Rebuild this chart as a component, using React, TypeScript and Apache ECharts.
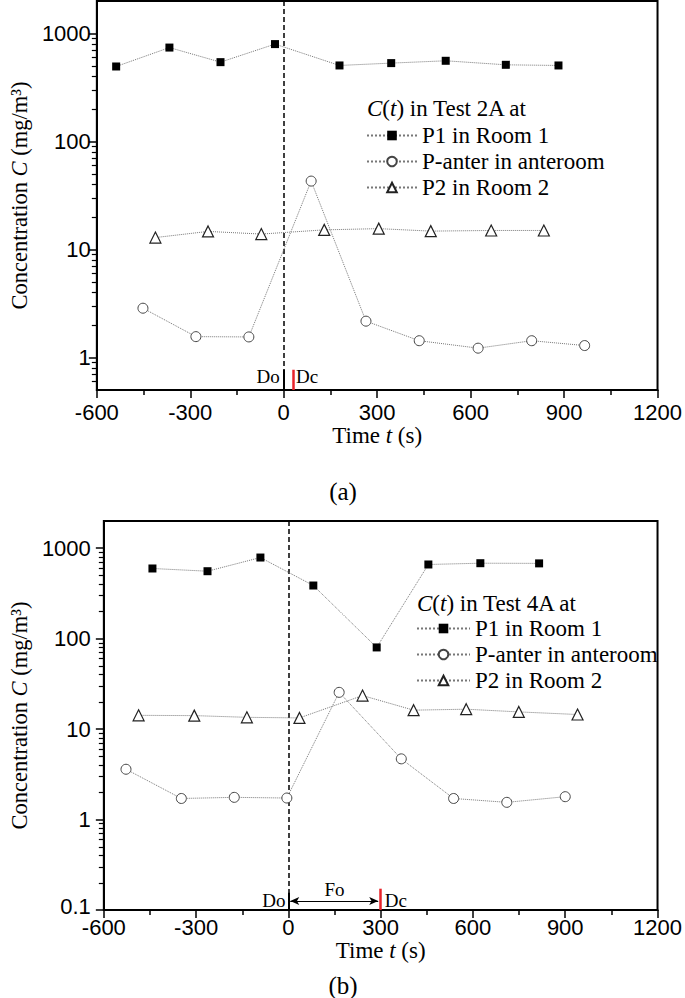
import React, { useEffect, useRef } from "react";
import * as echarts from "echarts";

// ---------- data ----------
const xMin = -600;
const xMax = 1200;
const xStep = 300;

// Test 2A (panel a)
const tA_P1 = [-538, -367, -203, -28, 179, 345, 520, 713, 882];
const cA_P1 = [495, 741, 543, 798, 506, 532, 559, 513, 506];
const tA_PA = [-452, -282, -112, 88, 264, 435, 624, 796, 966];
const cA_PA = [2.86, 1.56, 1.55, 43, 2.17, 1.43, 1.22, 1.43, 1.29];
const tA_P2 = [-412, -243, -72, 130, 305, 472, 666, 835];
const cA_P2 = [12.9, 14.7, 13.9, 15.2, 15.6, 14.8, 15.0, 15.0];

// Test 4A (panel b)
const tB_P1 = [-442, -263, -91, 81, 287, 455, 624, 815];
const cB_P1 = [597, 557, 789, 387, 80, 661, 683, 680];
const tB_PA = [-528, -348, -176, -5, 165, 367, 537, 710, 900];
const cB_PA = [3.6, 1.71, 1.76, 1.73, 25.5, 4.69, 1.71, 1.55, 1.79];
const tB_P2 = [-487, -306, -135, 36, 241, 407, 578, 749, 940];
const cB_P2 = [14.2, 14.1, 13.5, 13.3, 23.5, 16.2, 16.6, 15.5, 14.5];

const seriesNames = ["P1 in Room 1", "P-anter in anteroom", "P2 in Room 2"];
const yMajorA = [1, 10, 100, 1000];
const yMinorA = [0.6, 0.7, 0.8, 0.9, 2, 3, 4, 5, 6, 7, 8, 9, 20, 30, 40, 50, 60, 70, 80, 90, 200, 300, 400, 500, 600, 700, 800, 900];
const yMajorB = [0.1, 1, 10, 100, 1000];
const yMinorB = [0.2, 0.3, 0.4, 0.5, 0.6, 0.7, 0.8, 0.9, 2, 3, 4, 5, 6, 7, 8, 9, 20, 30, 40, 50, 60, 70, 80, 90, 200, 300, 400, 500, 600, 700, 800, 900];

// door events
const doTime = 0;
const dcTimeA = 30;
const dcTimeB = 300;

const SERIF = "'Liberation Serif', 'Times New Roman', serif";
const SANS = "'Liberation Sans', Arial, sans-serif";

const zip = (t: number[], c: number[]) => t.map((v, i) => [v, c[i]]);

const lineDotted = { color: "#777", type: "dotted" as const, width: 1 };

function makeSeries(gi: number, p1: number[][], pa: number[][], p2: number[][], marks: any) {
  return [
    {
      name: seriesNames[0],
      type: "line",
      xAxisIndex: gi,
      yAxisIndex: gi * 2,
      data: p1,
      symbol: "rect",
      symbolSize: 8,
      itemStyle: { color: "#000" },
      lineStyle: lineDotted,
      silent: true,
      z: 5,
      ...marks,
    },
    {
      name: seriesNames[1],
      type: "line",
      xAxisIndex: gi,
      yAxisIndex: gi * 2,
      data: pa,
      symbol: "circle",
      symbolSize: 10,
      itemStyle: { color: "#fff", borderColor: "#444", borderWidth: 1 },
      lineStyle: lineDotted,
      silent: true,
      z: 5,
    },
    {
      name: seriesNames[2],
      type: "line",
      xAxisIndex: gi,
      yAxisIndex: gi * 2,
      data: p2,
      symbol: "triangle",
      symbolSize: 11,
      itemStyle: { color: "#fff", borderColor: "#222", borderWidth: 1.2 },
      lineStyle: lineDotted,
      silent: true,
      z: 5,
    },
  ];
}

const labelFmt = (v: number) => String(+Number(v).toPrecision(6));

function xAxisCfg(gi: number, labelMargin: number, nameGap: number) {
  return {
    type: "value",
    gridIndex: gi,
    min: xMin,
    max: xMax,
    interval: xStep,
    axisLine: { show: true, onZero: false, lineStyle: { color: "#000", width: 2 } },
    axisTick: { show: true, length: 8, lineStyle: { color: "#000", width: 1.5 } },
    minorTick: { show: true, splitNumber: 2, length: 5, lineStyle: { color: "#000", width: 1.5 } },
    splitLine: { show: false },
    axisLabel: { color: "#000", fontFamily: SANS, fontSize: 22, lineHeight: 16, margin: labelMargin, formatter: labelFmt },
    name: "{a|Time }{i|t}{a| (s)}",
    nameLocation: "middle",
    nameGap,
    nameTextStyle: {
      rich: {
        a: { fontFamily: SERIF, fontSize: 23, color: "#000" },
        i: { fontFamily: SERIF, fontSize: 23, fontStyle: "italic", color: "#000" },
      },
    },
  };
}

function yAxesCfg(gi: number, min: number, max: number, major: number[], minor: number[], labelMargin: number, nameGap: number) {
  return [
    {
      type: "log",
      logBase: 10,
      gridIndex: gi,
      min,
      max,
      position: "left",
      axisLine: { show: true, onZero: false, lineStyle: { color: "#000", width: 2 } },
      axisTick: { show: true, length: 8, customValues: major, lineStyle: { color: "#000", width: 1.5 } },
      axisLabel: {
        color: "#000",
        fontFamily: SANS,
        fontSize: 22,
        lineHeight: 16,
        margin: labelMargin,
        customValues: major,
        // the lowest label of panel (b) is lifted slightly so it clears "-600"
        formatter: (v: number) => (v === 0.1 ? "{lo|0.1}" : labelFmt(v)),
        rich: {
          lo: { fontFamily: SANS, fontSize: 22, lineHeight: 16, color: "#000", padding: [0, 0, 8, 0] },
        },
      },
      splitLine: { show: false },
      name: "{a|Concentration }{i|C}{a| (mg/m³)}",
      nameLocation: "middle",
      nameGap,
      nameRotate: 90,
      nameTextStyle: {
        rich: {
          a: { fontFamily: SERIF, fontSize: 22.5, color: "#000" },
          i: { fontFamily: SERIF, fontSize: 22.5, fontStyle: "italic", color: "#000" },
        },
      },
    },
    {
      type: "log",
      logBase: 10,
      gridIndex: gi,
      min,
      max,
      position: "left",
      offset: 0,
      axisLine: { show: false, onZero: false },
      axisTick: { show: true, length: 5, customValues: minor, lineStyle: { color: "#000", width: 1.2 } },
      axisLabel: { show: false },
      splitLine: { show: false },
    },
  ];
}

const annoLabel = { fontFamily: SERIF, fontSize: 19, color: "#000" };

function legendCfg(left: number, top: number, itemWidth: number) {
  return {
    orient: "vertical",
    left,
    top,
    padding: 0,
    itemWidth,
    itemHeight: 12,
    itemGap: 3,
    selectedMode: false,
    data: seriesNames,
    textStyle: { fontFamily: SERIF, fontSize: 23, lineHeight: 22, color: "#000" },
  };
}

function legendTitle(text: string, x: number, y: number) {
  return {
    type: "text",
    x,
    y,
    silent: true,
    style: {
      text,
      fontFamily: SERIF,
      fontSize: 23,
      fill: "#000",
      verticalAlign: "middle",
      rich: {
        i: { fontFamily: SERIF, fontSize: 23, fontStyle: "italic", fill: "#000" },
        a: { fontFamily: SERIF, fontSize: 23, fill: "#000" },
      },
    },
  };
}

export default function App() {
  const ref = useRef<HTMLDivElement>(null);

  useEffect(() => {
    if (!ref.current) return;
    const chart = echarts.init(ref.current, null, { renderer: "svg" });

    const dashed = { color: "#000", type: [5, 3], width: 1.5 };
    const solidBlack = { color: "#000", type: "solid", width: 2 };
    const solidRed = { color: "#e8232a", type: "solid", width: 2.5 };

    const marksA = {
      markLine: {
        silent: true,
        symbol: ["none", "none"],
        label: { show: false },
        lineStyle: dashed,
        animation: false,
        data: [
          { xAxis: doTime },
          [
            { coord: [doTime, 0.77], lineStyle: solidBlack },
            { coord: [doTime, 0.5] },
          ],
          [
            { coord: [dcTimeA, 0.77], lineStyle: solidRed },
            { coord: [dcTimeA, 0.5] },
          ],
        ],
      },
      markPoint: {
        silent: true,
        symbol: "circle",
        symbolSize: 0,
        animation: false,
        data: [
          { coord: [doTime, 0.66], label: { show: true, formatter: "Do", position: "left", distance: 4, ...annoLabel } },
          { coord: [dcTimeA, 0.66], label: { show: true, formatter: "Dc", position: "right", distance: 3, ...annoLabel } },
        ],
      },
    };

    const marksB = {
      markLine: {
        silent: true,
        symbol: ["none", "none"],
        label: { show: false },
        lineStyle: dashed,
        animation: false,
        data: [
          { xAxis: doTime },
          [
            { coord: [doTime, 0.155], lineStyle: solidBlack },
            { coord: [doTime, 0.1] },
          ],
          [
            { coord: [dcTimeB, 0.172], lineStyle: solidRed },
            { coord: [dcTimeB, 0.1] },
          ],
          [
            { coord: [doTime + 6, 0.126], symbol: "arrow", symbolSize: [6, 9], lineStyle: { color: "#000", type: "solid", width: 1.2 } },
            { coord: [dcTimeB - 8, 0.126], symbol: "arrow", symbolSize: [6, 9] },
          ],
        ],
      },
      markPoint: {
        silent: true,
        symbol: "circle",
        symbolSize: 0,
        animation: false,
        data: [
          { coord: [doTime, 0.126], label: { show: true, formatter: "Do", position: "left", distance: 3, ...annoLabel } },
          { coord: [dcTimeB, 0.126], label: { show: true, formatter: "Dc", position: "right", distance: 4, ...annoLabel } },
          { coord: [(doTime + dcTimeB) / 2, 0.167], label: { show: true, formatter: "Fo", position: "inside", ...annoLabel } },
        ],
      },
    };

    const option: any = {
      animation: false,
      backgroundColor: "#fff",
      grid: [
        { left: 88, top: 1, width: 572, height: 389, show: true, borderColor: "#000", borderWidth: 2, backgroundColor: "transparent" },
        { left: 93, top: 521, width: 566, height: 389, show: true, borderColor: "#000", borderWidth: 2, backgroundColor: "transparent" },
      ],
      xAxis: [xAxisCfg(0, 14, 30), xAxisCfg(1, 9, 15)],
      yAxis: [
        ...yAxesCfg(0, 0.5, 2000, yMajorA, yMinorA, 6, 60),
        ...yAxesCfg(1, 0.1, 2000, yMajorB, yMinorB, 13, 65),
      ],
      legend: [legendCfg(366, 124, 50), legendCfg(416, 617, 53)],
      graphic: [
        legendTitle("{i|C}{a|(}{i|t}{a|) in Test 2A at}", 367, 108),
        legendTitle("{i|C}{a|(}{i|t}{a|) in Test 4A at}", 417, 603),
        {
          type: "text",
          x: 343,
          y: 491,
          silent: true,
          style: { text: "(a)", fontFamily: SERIF, fontSize: 25, fill: "#000", align: "center", verticalAlign: "middle" },
        },
        {
          type: "text",
          x: 343,
          y: 985,
          silent: true,
          style: { text: "(b)", fontFamily: SERIF, fontSize: 25, fill: "#000", align: "center", verticalAlign: "middle" },
        },
      ],
      series: [
        ...makeSeries(0, zip(tA_P1, cA_P1), zip(tA_PA, cA_PA), zip(tA_P2, cA_P2), marksA),
        ...makeSeries(1, zip(tB_P1, cB_P1), zip(tB_PA, cB_PA), zip(tB_P2, cB_P2), marksB),
      ],
    };

    chart.setOption(option);
    return () => chart.dispose();
  }, []);

  return (
    <div
      ref={ref}
      style={{ position: "fixed", left: 0, top: 0, width: 685, height: 998, background: "#fff" }}
    />
  );
}
